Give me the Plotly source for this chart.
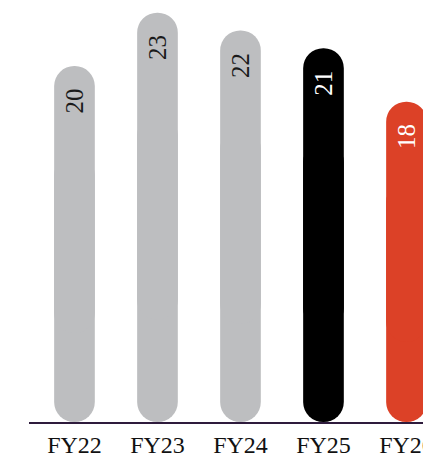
import plotly.graph_objects as go

# Fiscal-year values
years = ["FY22", "FY23", "FY24", "FY25", "FY26"]
values = [20, 23, 22, 21, 18]
bar_colors = ["#bdbec0", "#bdbec0", "#bdbec0", "#000000", "#dc4127"]
label_colors = ["#1a1a1a", "#1a1a1a", "#1a1a1a", "#ffffff", "#ffffff"]

SERIF = "Liberation Serif, DejaVu Serif, serif"
BAR_W = 0.49

fig = go.Figure()

# Each pill is two overlapping rounded bars: one covering the lower 75 %
# (rounded at zero) and one covering the upper 75 % (rounded at the value).
lower_top = [v * 0.75 for v in values]
upper_base = [v * 0.25 for v in values]

fig.add_trace(go.Bar(
    x=years, y=[-t for t in lower_top], base=lower_top,
    width=BAR_W, marker=dict(color=bar_colors, line=dict(width=0), cornerradius="50%"),
    hoverinfo="skip", showlegend=False,
))
fig.add_trace(go.Bar(
    x=years, y=[v - b for v, b in zip(values, upper_base)], base=upper_base,
    width=BAR_W, marker=dict(color=bar_colors, line=dict(width=0), cornerradius="50%"),
    hoverinfo="skip", showlegend=False,
))

# Rotated value labels just below the rounded tops
for yr, v, c in zip(years, values, label_colors):
    fig.add_annotation(
        x=yr, y=v, xref="x", yref="y", text=str(v), showarrow=False,
        textangle=-90, yshift=-35, xanchor="center", yanchor="middle",
        font=dict(family=SERIF, size=25, color=c),
    )

fig.update_layout(
    width=423, height=457,
    margin=dict(l=29, r=0, t=0, b=35),
    barmode="overlay",
    plot_bgcolor="white", paper_bgcolor="white",
    xaxis=dict(
        range=[-0.548, 4.199], showgrid=False, zeroline=False,
        showline=True, linecolor="#2e1b3c", linewidth=1.5,
        ticks="", tickfont=dict(family=SERIF, size=24, color="#111111"),
        ticklabeloverflow="allow", automargin=False,
    ),
    yaxis=dict(range=[0, 23.71], visible=False),
)

fig.write_html("out.html")
